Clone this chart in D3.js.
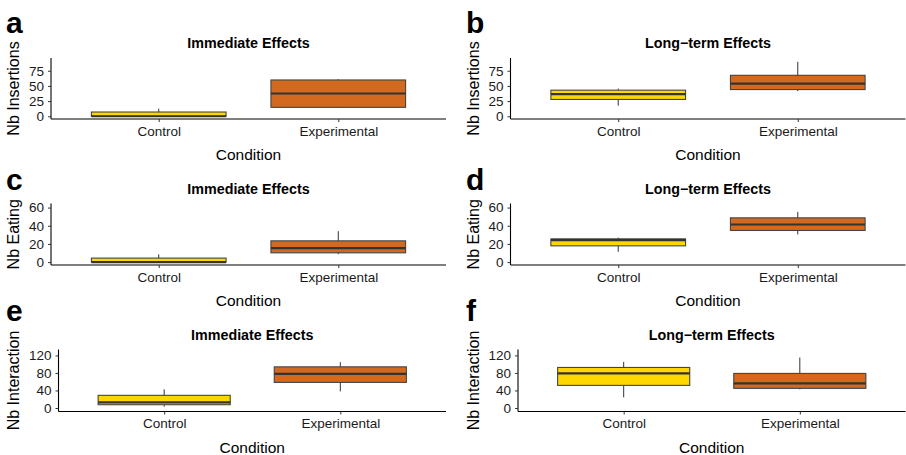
<!DOCTYPE html>
<html>
<head>
<meta charset="utf-8">
<script src="https://cdn.jsdelivr.net/npm/d3@7"></script>
<style>
  body { margin: 0; background: #fff; }
  svg { font-family: "Liberation Sans", Arial, sans-serif; }
</style>
</head>
<body>
<div id="chart"></div>
<script>
// data
const conditions = ["Control", "Experimental"];
const boxColors = ["#FFD700", "#D2691E"];
const panelLetters = ["a", "b", "c", "d", "e", "f"];
const panelTitles = ["Immediate Effects", "Long\u2212term Effects",
                     "Immediate Effects", "Long\u2212term Effects",
                     "Immediate Effects", "Long\u2212term Effects"];
const yLabels = ["Nb Insertions", "Nb Insertions", "Nb Eating", "Nb Eating",
                 "Nb Interaction", "Nb Interaction"];
const yTicks = [[0, 25, 50, 75], [0, 25, 50, 75], [0, 20, 40, 60], [0, 20, 40, 60],
                [0, 40, 80, 120], [0, 40, 80, 120]];
const yDomains = [[-4.5, 96], [-4.5, 96], [-3.2, 64.5], [-3.2, 64.5],
                  [-8, 133.5], [-8, 133.5]];

// [lower whisker, Q1, median, Q3, upper whisker] for Control, Experimental
const insertionsImmediate = [[0, 0, 0, 7, 12.5], [14, 14.7, 37.5, 59.8, 61]];
const insertionsLongTerm  = [[17.4, 27.7, 36.5, 43, 45.6], [41.4, 44, 53.8, 67.5, 89.7]];
const eatingImmediate     = [[0, 0, 0, 4.4, 8.5], [8.8, 10.2, 15.4, 23.4, 34]];
const eatingLongTerm      = [[11.3, 17.9, 24.2, 25.6, 27], [30.4, 34.8, 41.4, 48.7, 55.3]];
const interactionImmediate = [[3, 7.5, 13, 28.9, 42.5], [38, 58.4, 78, 93.9, 104.5]];
const interactionLongTerm  = [[24.3, 51.6, 78.9, 92.5, 105.2], [42.5, 44.8, 56.1, 78.9, 115.2]];

const panelStats = [insertionsImmediate, insertionsLongTerm, eatingImmediate,
                    eatingLongTerm, interactionImmediate, interactionLongTerm];

const W = 906, H = 455;
const svg = d3.select("#chart").append("svg")
    .attr("width", W).attr("height", H);

// panel geometry: plot area in page pixels
const plotBox = [
  {x0: 51, x1: 446, y0: 58, y1: 119},
  {x0: 510.5, x1: 905.5, y0: 58, y1: 119},
  {x0: 51, x1: 446, y0: 203.5, y1: 265},
  {x0: 510.5, x1: 905.5, y0: 203.5, y1: 265},
  {x0: 58.5, x1: 446, y0: 349.5, y1: 411.5},
  {x0: 518, x1: 905.5, y0: 349.5, y1: 411.5}
];
const letterPos = [[6, 33], [466, 33], [6, 190], [466, 190], [6, 321], [466, 321]];
const yLabelX = [14, 474];

panelStats.forEach((stats, i) => {
  const p = plotBox[i];
  const col = i % 2;

  const x = d3.scalePoint().domain(conditions).range([p.x0, p.x1]).padding(0.6);
  const y = d3.scaleLinear().domain(yDomains[i]).range([p.y1, p.y0]);
  const boxW = x.step() * 0.75;

  const g = svg.append("g");

  // panel letter
  g.append("text")
    .attr("x", letterPos[i][0]).attr("y", letterPos[i][1])
    .attr("font-size", 30).attr("font-weight", "bold")
    .text(panelLetters[i]);

  // title
  g.append("text")
    .attr("x", (p.x0 + p.x1) / 2).attr("y", p.y0 - 10)
    .attr("text-anchor", "middle")
    .attr("font-size", 14.3).attr("font-weight", "bold")
    .text(panelTitles[i]);

  // boxes
  const boxes = g.selectAll(".box")
    .data(stats)
    .enter().append("g")
    .attr("class", "box");

  boxes.append("line")
    .attr("x1", (d, j) => x(conditions[j])).attr("x2", (d, j) => x(conditions[j]))
    .attr("y1", d => y(d[0])).attr("y2", d => y(d[4]))
    .attr("stroke", "#333").attr("stroke-width", 1);

  boxes.append("rect")
    .attr("x", (d, j) => x(conditions[j]) - boxW / 2)
    .attr("width", boxW)
    .attr("y", d => y(d[3]))
    .attr("height", d => y(d[1]) - y(d[3]))
    .attr("fill", (d, j) => boxColors[j])
    .attr("stroke", "#444").attr("stroke-width", 1.1);

  boxes.append("line")
    .attr("x1", (d, j) => x(conditions[j]) - boxW / 2)
    .attr("x2", (d, j) => x(conditions[j]) + boxW / 2)
    .attr("y1", d => y(d[2])).attr("y2", d => y(d[2]))
    .attr("stroke", "#333").attr("stroke-width", 2.2);

  // axes
  const xAxis = g.append("g")
    .attr("transform", `translate(0,${p.y1})`)
    .call(d3.axisBottom(x).tickSize(3).tickPadding(4).tickSizeOuter(0));
  xAxis.select(".domain").attr("d", `M${p.x0},0H${p.x1}`);

  const yAxis = g.append("g")
    .attr("transform", `translate(${p.x0},0)`)
    .call(d3.axisLeft(y).tickValues(yTicks[i]).tickSize(3).tickPadding(4).tickSizeOuter(0));
  yAxis.select(".domain").attr("d", `M0,${p.y0}V${p.y1}`);

  [xAxis, yAxis].forEach(a => {
    a.attr("font-family", null).attr("font-size", null);
    a.select(".domain").attr("stroke", "#000").attr("stroke-width", 1.1);
    a.selectAll(".tick line").attr("stroke", "#333");
    a.selectAll(".tick text").attr("fill", "#1a1a1a").attr("font-size", 13.5);
  });

  // axis titles
  g.append("text")
    .attr("x", (p.x0 + p.x1) / 2).attr("y", p.y1 + 41)
    .attr("text-anchor", "middle")
    .attr("font-size", 15.5)
    .text("Condition");

  g.append("text")
    .attr("transform", `translate(${yLabelX[col] + 5},${(p.y0 + p.y1) / 2}) rotate(-90)`)
    .attr("text-anchor", "middle")
    .attr("font-size", 16)
    .text(yLabels[i]);
});
</script>
</body>
</html>
